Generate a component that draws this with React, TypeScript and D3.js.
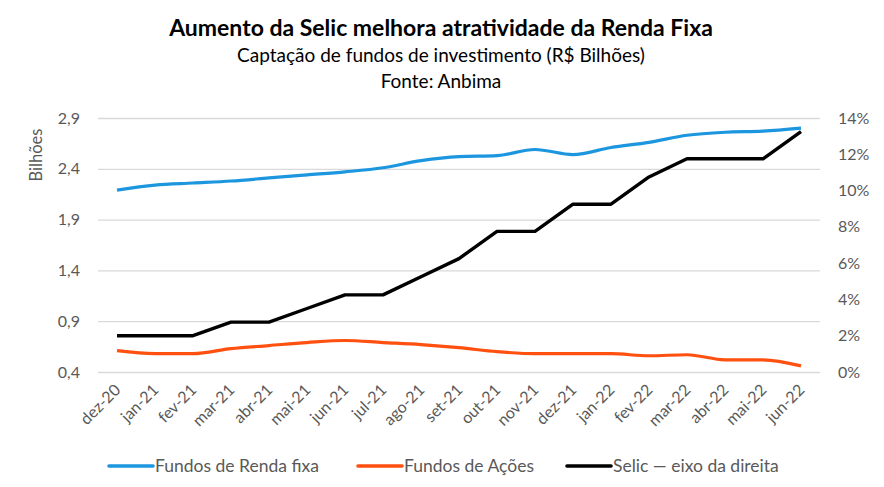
import React, { useEffect, useRef } from 'react';
import * as d3 from 'd3';

const months = [
  'dez-20', 'jan-21', 'fev-21', 'mar-21', 'abr-21', 'mai-21', 'jun-21', 'jul-21', 'ago-21', 'set-21',
  'out-21', 'nov-21', 'dez-21', 'jan-22', 'fev-22', 'mar-22', 'abr-22', 'mai-22', 'jun-22',
];
const rendaFixa = [2.19, 2.24, 2.26, 2.28, 2.31, 2.34, 2.37, 2.41, 2.48, 2.52, 2.53, 2.59, 2.54, 2.61, 2.66, 2.73, 2.76, 2.77, 2.8];
const acoes = [0.61, 0.58, 0.58, 0.63, 0.66, 0.69, 0.71, 0.69, 0.67, 0.64, 0.6, 0.58, 0.58, 0.58, 0.56, 0.57, 0.52, 0.52, 0.46];
const selic = [2, 2, 2, 2.75, 2.75, 3.5, 4.25, 4.25, 5.25, 6.25, 7.75, 7.75, 9.25, 9.25, 10.75, 11.75, 11.75, 11.75, 13.25];
const leftTicks = [0.4, 0.9, 1.4, 1.9, 2.4, 2.9];
const rightTicks = [0, 2, 4, 6, 8, 10, 12, 14];

const FONT = 'Lato, "Open Sans", sans-serif';

const App = () => {
  const svgRef = useRef<SVGSVGElement>(null);

  useEffect(() => {
    const W = 884;
    const H = 487;
    const margin = { top: 118, right: 64, bottom: 115, left: 98 };
    const width = W - margin.left - margin.right;
    const height = H - margin.top - margin.bottom;

    const root = d3.select(svgRef.current);
    root.selectAll('*').remove();
    root.attr('width', W).attr('height', H);

    root.append('rect').attr('width', W).attr('height', H).attr('fill', '#fff');

    // Titles
    const titles = [
      { t: 'Aumento da Selic melhora atratividade da Renda Fixa', y: 36, size: 23, w: 'bold' },
      { t: 'Captação de fundos de investimento (R$ Bilhões)', y: 62, size: 19, w: 'normal' },
      { t: 'Fonte: Anbima', y: 88, size: 19, w: 'normal' },
    ];
    titles.forEach(d => {
      root.append('text')
        .attr('x', W / 2 - 1)
        .attr('y', d.y)
        .attr('text-anchor', 'middle')
        .attr('font-family', FONT)
        .attr('font-size', d.size)
        .attr('font-weight', d.w)
        .attr('fill', '#000')
        .text(d.t);
    });

    const svg = root.append('g').attr('transform', `translate(${margin.left},${margin.top})`);

    const x = d3.scalePoint<string>().domain(months).range([0, width]).padding(0.5);
    const yL = d3.scaleLinear().domain([0.4, 2.9]).range([height, 0]);
    const yR = d3.scaleLinear().domain([0, 14]).range([height, 0]);

    // Gridlines + left axis
    svg.append('g')
      .call(d3.axisLeft(yL).tickValues(leftTicks).tickSize(-width).tickPadding(18)
        .tickFormat(d => d3.format('.1f')(d as number).replace('.', ',')))
      .call(g => g.select('.domain').remove())
      .call(g => g.selectAll('.tick line').attr('stroke', '#d9d9d9').attr('stroke-width', 1.3))
      .call(g => g.selectAll('.tick text')
        .attr('fill', '#595959').attr('font-family', FONT).attr('font-size', 16));

    // Right axis
    svg.append('g')
      .attr('transform', `translate(${width},0)`)
      .call(d3.axisRight(yR).tickValues(rightTicks).tickSize(0).tickPadding(18)
        .tickFormat(d => `${d}%`))
      .call(g => g.select('.domain').remove())
      .call(g => g.selectAll('.tick text')
        .attr('fill', '#595959').attr('font-family', FONT).attr('font-size', 16));

    // Left axis title
    svg.append('text')
      .attr('transform', `translate(${-56},${37}) rotate(-90)`)
      .attr('text-anchor', 'middle')
      .attr('fill', '#595959')
      .attr('font-family', FONT)
      .attr('font-size', 16.5)
      .text('Bilhões');

    // X labels
    const xa = svg.append('g')
      .attr('transform', `translate(0,${height})`)
      .call(d3.axisBottom(x).tickSize(0).tickPadding(0))
      .call(g => g.select('.domain').remove());
    xa.selectAll('.tick text')
      .attr('fill', '#595959')
      .attr('font-family', FONT)
      .attr('font-size', 16)
      .attr('text-anchor', 'end')
      .attr('dy', null)
      .attr('y', 0)
      .attr('transform', 'translate(4,19) rotate(-45)');

    const idx = d3.range(months.length);

    const smooth = (vals: number[], scale: d3.ScaleLinear<number, number>) =>
      d3.line<number>()
        .x(i => x(months[i]) as number)
        .y(i => scale(vals[i]))
        .curve(d3.curveMonotoneX)(idx);

    svg.append('path')
      .attr('d', smooth(acoes, yL))
      .attr('fill', 'none')
      .attr('stroke', '#ff5010')
      .attr('stroke-width', 3.2);

    svg.append('path')
      .attr('d', d3.line<number>()
        .x(i => x(months[i]) as number)
        .y(i => yR(selic[i]))(idx))
      .attr('fill', 'none')
      .attr('stroke', '#000')
      .attr('stroke-width', 3.4)
      .attr('stroke-linejoin', 'round');

    svg.append('path')
      .attr('d', smooth(rendaFixa, yL))
      .attr('fill', 'none')
      .attr('stroke', '#1c96de')
      .attr('stroke-width', 3.2);

    // Legend
    const legend = [
      { label: 'Fundos de Renda fixa', color: '#1c96de', x: 109 },
      { label: 'Fundos de Ações', color: '#ff5010', x: 358 },
      { label: 'Selic — eixo da direita', color: '#000', x: 567 },
    ];
    const lg = root.append('g').attr('transform', 'translate(0,466)');
    legend.forEach(d => {
      lg.append('line')
        .attr('x1', d.x).attr('x2', d.x + 44)
        .attr('y1', 0).attr('y2', 0)
        .attr('stroke', d.color).attr('stroke-width', 3.6)
        .attr('stroke-linecap', 'round');
      lg.append('text')
        .attr('x', d.x + 46)
        .attr('y', 6)
        .attr('fill', '#595959')
        .attr('font-family', FONT)
        .attr('font-size', 17.5)
        .text(d.label);
    });
  }, []);

  return <svg ref={svgRef} style={{ position: 'absolute', left: 0, top: 0 }}></svg>;
};

export default App;
